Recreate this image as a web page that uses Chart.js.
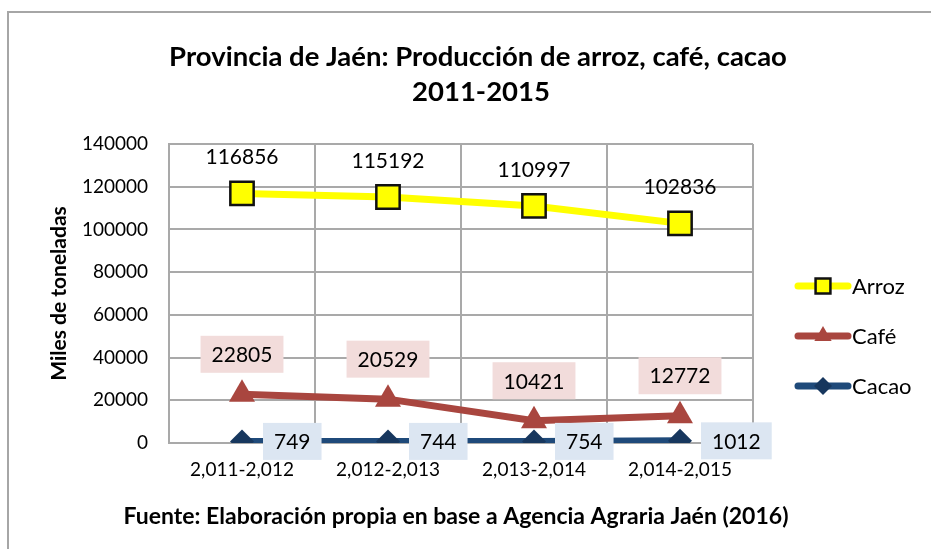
<!DOCTYPE html>
<html>
<head>
<meta charset="utf-8">
<script src="https://cdn.jsdelivr.net/npm/chart.js@4"></script>
<style>
  html, body { margin: 0; padding: 0; background: #fff; }
  #wrap { width: 931px; height: 549px; }
</style>
</head>
<body>
<div id="wrap"><canvas id="c"></canvas></div>
<script>
const categories = ["2,011-2,012", "2,012-2,013", "2,013-2,014", "2,014-2,015"];
const arroz = [116856, 115192, 110997, 102836];
const cafe = [22805, 20529, 10421, 12772];
const cacao = [749, 744, 754, 1012];
const titleLines = ["Provincia de Jaén: Producción de arroz, café, cacao", "2011-2015"];
const footerText = "Fuente: Elaboración propia en base a Agencia Agraria Jaén (2016)";
const yAxisTitle = "Miles de toneladas";

const FONT = "Lato, 'Open Sans', sans-serif";
const GRID = "#a9a9a9";

// labels: arroz above plain, café above on pink, cacao right on blue
const labelStyle = [
  { right: false, dy: -37, bg: null },
  { right: false, dy: -40, bg: "#f2dcdb" },
  { right: true, dy: 0, bg: "#dce6f2" }
];

const pointLabels = {
  id: "pointLabels",
  afterDatasetsDraw(chart) {
    const ctx = chart.ctx;
    ctx.save();
    ctx.font = "21px " + FONT;
    ctx.textAlign = "center";
    ctx.textBaseline = "middle";
    chart.data.datasets.forEach((ds, i) => {
      const st = labelStyle[i];
      chart.getDatasetMeta(i).data.forEach((pt, j) => {
        const txt = String(ds.data[j]);
        const w = ctx.measureText(txt).width;
        const cx = st.right ? pt.x + 21 + (w + 22) / 2 : pt.x;
        const cy = pt.y + st.dy;
        if (st.bg) {
          ctx.fillStyle = st.bg;
          ctx.fillRect(cx - w / 2 - 11, cy - 18.5, w + 22, 37);
        }
        ctx.fillStyle = "#000";
        ctx.fillText(txt, cx, cy + 1);
      });
    });
    ctx.restore();
  }
};

const sideLegend = {
  id: "sideLegend",
  afterDraw(chart) {
    const ctx = chart.ctx;
    ctx.save();
    ctx.font = "22px " + FONT;
    ctx.textBaseline = "middle";
    chart.data.datasets.forEach((ds, i) => {
      const y = 286 + i * 50;
      ctx.strokeStyle = ds.borderColor;
      ctx.lineWidth = 7;
      ctx.lineCap = "round";
      ctx.beginPath();
      ctx.moveTo(798, y);
      ctx.lineTo(848, y);
      ctx.stroke();
      ctx.fillStyle = ds.pointBackgroundColor;
      ctx.strokeStyle = ds.pointBorderColor;
      ctx.lineWidth = ds.pointBorderWidth;
      Chart.helpers.drawPoint(ctx, { pointStyle: ds.pointStyle, radius: ds.legendRadius, rotation: 0, borderWidth: ds.pointBorderWidth }, 823, y);
      ctx.fillStyle = "#000";
      ctx.fillText(ds.label, 852, y + 1);
    });
    ctx.restore();
  }
};

const frameAndText = {
  id: "frameAndText",
  beforeDraw(chart) {
    const ctx = chart.ctx;
    ctx.save();
    ctx.fillStyle = "#fff";
    ctx.fillRect(0, 0, chart.width, chart.height);
    ctx.strokeStyle = "#a6a6a6";
    ctx.lineWidth = 2;
    ctx.beginPath();
    ctx.moveTo(8, chart.height);
    ctx.lineTo(8, 12);
    ctx.lineTo(chart.width, 12);
    ctx.stroke();
    ctx.fillStyle = "#000";
    ctx.textAlign = "center";
    ctx.textBaseline = "middle";
    ctx.font = "bold 27.5px " + FONT;
    ctx.fillText(titleLines[0], 478, 57);
    ctx.fillText(titleLines[1], 481, 92);
    ctx.font = "bold 23px " + FONT;
    ctx.fillText(footerText, 456, 517);
    ctx.restore();
  }
};

new Chart(document.getElementById("c"), {
  type: "line",
  data: {
    labels: categories,
    datasets: [
      { label: "Arroz", data: arroz, borderColor: "#ffff00", borderWidth: 7,
        pointStyle: "rect", pointRadius: 16.5, legendRadius: 10.5, pointBackgroundColor: "#ffff00",
        pointBorderColor: "#111", pointBorderWidth: 2.5, tension: 0 },
      { label: "Café", data: cafe, borderColor: "#a9463f", borderWidth: 7,
        pointStyle: "triangle", pointRadius: 15, legendRadius: 10, pointBackgroundColor: "#a9463f",
        pointBorderColor: "#a9463f", pointBorderWidth: 0, tension: 0 },
      { label: "Cacao", data: cacao, borderColor: "#1f4a7a", borderWidth: 7,
        pointStyle: "rectRot", pointRadius: 12, legendRadius: 9, pointBackgroundColor: "#17375e",
        pointBorderColor: "#17375e", pointBorderWidth: 0, tension: 0 }
    ]
  },
  options: {
    animation: false, responsive: true, maintainAspectRatio: false,
    layout: { padding: { top: 144, left: 47, right: 178, bottom: 56 } },
    plugins: {
      legend: { display: false },
      tooltip: { enabled: false },
      title: { display: false },
      subtitle: { display: false }
    },
    scales: {
      x: {
        offset: true,
        grid: { offset: true, color: GRID, lineWidth: 2, drawTicks: false },
        border: { color: GRID, width: 2 },
        ticks: { color: "#000", padding: 15, font: { family: FONT, size: 19 } },
        afterFit: s => { s.height = 50; }
      },
      y: {
        min: 0, max: 140000,
        grid: { color: GRID, lineWidth: 2, drawTicks: false },
        border: { color: GRID, width: 2 },
        ticks: { stepSize: 20000, color: "#000", padding: 21, font: { family: FONT, size: 19 },
          callback: v => String(v) },
        title: { display: true, text: yAxisTitle, color: "#000", padding: 0,
          font: { family: FONT, size: 21, weight: "bold" } },
        afterFit: s => { s.width = 122; }
      }
    }
  },
  plugins: [frameAndText, pointLabels, sideLegend]
});
</script>
</body>
</html>
